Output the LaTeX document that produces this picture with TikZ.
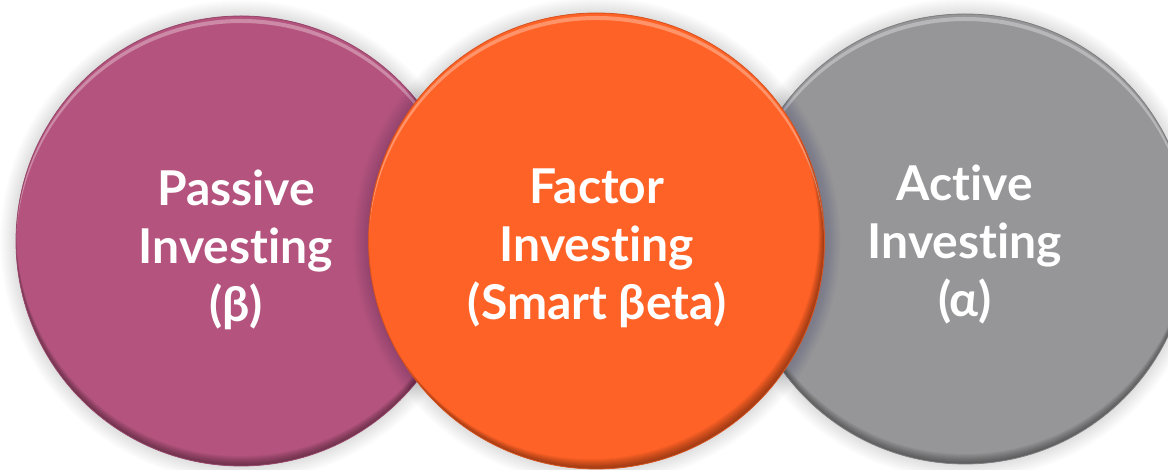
\documentclass[tikz,border=0pt]{standalone}
\usepackage{fontspec}
\setmainfont{Lato}[Ligatures={NoCommon,NoRare}]
\definecolor{pinkc}{HTML}{B4547E}
\definecolor{orangec}{HTML}{FF6226}
\definecolor{grayc}{HTML}{969698}
\newcommand\drawglow[3]{%
  \foreach \i in {1,...,16}{\fill[black!70!blue, opacity=0.009] (#1,#2) circle[radius={(#3+\i)*1pt}];}%
}
\newcommand\drawbubble[6]{% x y r color dx dy
  \fill[#4] (#1,#2) circle[radius=#3 pt];
  \begin{scope}
    \clip (#1,#2) circle[radius=#3 pt];
    \foreach \d in {1,...,10}{\fill[black, opacity=0.045, even odd rule] (#1,#2) circle[radius=#3 pt] (#1+#5*\d,#2+#6*\d) circle[radius=#3 pt];}
    \fill[white, opacity=0.32, even odd rule] (#1,#2-3) circle[radius=#3 pt] (#1,#2-7) circle[radius=#3 pt];
  \end{scope}
  \draw[#4!85!black, line width=0.8pt] (#1,#2) circle[radius=#3 pt];
}
\tikzset{label/.style={text=white, font=\bfseries\fontsize{48}{58}\selectfont, align=center, inner sep=0pt}}
\begin{document}
\begin{tikzpicture}[x=1pt,y=1pt]
\fill[white] (0,0) rectangle (1168,470);
\useasboundingbox (0,0) rectangle (1168,470);
\drawglow{241}{229}{225}
\drawglow{965}{231}{225}
\drawbubble{241}{229}{225}{pinkc}{0}{1}
\drawbubble{965}{231}{225}{grayc}{0}{1}
\drawglow{596.5}{229}{228}
\drawbubble{596.5}{229}{228}{orangec}{-0.6}{1}
\node[label] (passive) at (236,220) {Passive\\Investing\\(β)};
\node[label] (factor) at (597,222) {Factor\\Investing\\(Smart βeta)};
\node[label] (active) at (965,225) {Active\\Investing\\(α)};
\end{tikzpicture}
\end{document}
